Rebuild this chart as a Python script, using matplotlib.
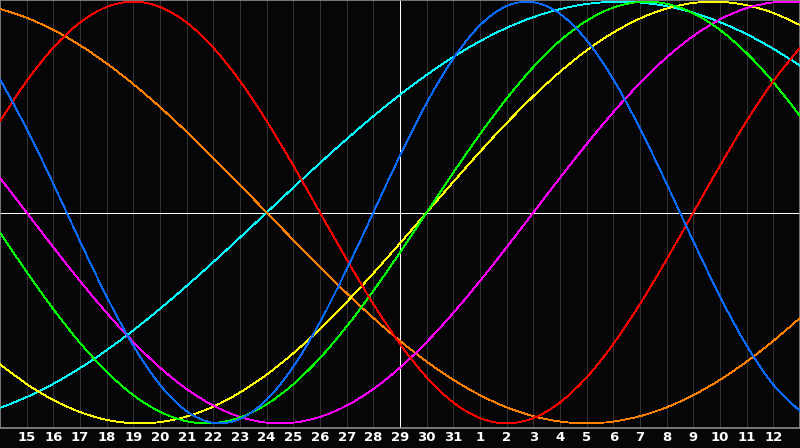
import matplotlib
matplotlib.use("Agg")
from matplotlib import pyplot as plt
from matplotlib.path import Path
from matplotlib.patches import PathPatch

# day labels along the bottom (one per grid line)
day_labels = [15, 16, 17, 18, 19, 20, 21, 22, 23, 24, 25, 26, 27, 28, 29, 30, 31,
              1, 2, 3, 4, 5, 6, 7, 8, 9, 10, 11, 12]
today_label = 29

# curve values per day (x = 0 .. 30), range -1 .. 1
blue = [0.6311, 0.3984, 0.1362, -0.1362, -0.3984, -0.6311, -0.8170, -0.9423,
        -0.9977, -0.9791, -0.8879, -0.7308, -0.5196, -0.2698, 0.0, 0.2698,
        0.5196, 0.7308, 0.8879, 0.9791, 0.9977, 0.9423, 0.8170, 0.6311,
        0.3984, 0.1362, -0.1362, -0.3984, -0.6311, -0.8170, -0.9423]
red = [0.4339, 0.6235, 0.7818, 0.9010, 0.9749, 1.0, 0.9749, 0.9010,
       0.7818, 0.6235, 0.4339, 0.2225, 0.0, -0.2225, -0.4339, -0.6235,
       -0.7818, -0.9010, -0.9749, -1.0, -0.9749, -0.9010, -0.7818, -0.6235,
       -0.4339, -0.2225, 0.0, 0.2225, 0.4339, 0.6235, 0.7818]
green = [-0.0951, -0.2817, -0.4582, -0.6182, -0.7557, -0.8660, -0.9450, -0.9898,
         -0.9989, -0.9718, -0.9096, -0.8146, -0.6901, -0.5406, -0.3717, -0.1893,
         0.0, 0.1893, 0.3717, 0.5406, 0.6901, 0.8146, 0.9096, 0.9718,
         0.9989, 0.9898, 0.9450, 0.8660, 0.7557, 0.6182, 0.4582]
magenta = [0.1646, 0.0, -0.1646, -0.3247, -0.4759, -0.6142, -0.7357, -0.8372,
           -0.9158, -0.9694, -0.9966, -0.9966, -0.9694, -0.9158, -0.8372, -0.7357,
           -0.6142, -0.4759, -0.3247, -0.1646, 0.0, 0.1646, 0.3247, 0.4759,
           0.6142, 0.7357, 0.8372, 0.9158, 0.9694, 0.9966, 0.9966]
yellow = [-0.7199, -0.8133, -0.8894, -0.9464, -0.9834, -0.9993, -0.9940, -0.9675,
          -0.9204, -0.8535, -0.7687, -0.6673, -0.5517, -0.4245, -0.2881, -0.1456,
          0.0, 0.1456, 0.2881, 0.4245, 0.5517, 0.6673, 0.7687, 0.8535,
          0.9204, 0.9675, 0.9940, 0.9993, 0.9834, 0.9464, 0.8894]
orange = [0.9659, 0.9239, 0.8660, 0.7934, 0.7071, 0.6088, 0.5, 0.3827,
          0.2588, 0.1305, 0.0, -0.1305, -0.2588, -0.3827, -0.5, -0.6088,
          -0.7071, -0.7934, -0.8660, -0.9239, -0.9659, -0.9914, -1.0, -0.9914,
          -0.9659, -0.9239, -0.8660, -0.7934, -0.7071, -0.6088, -0.5]
cyan = [-0.9267, -0.8757, -0.8125, -0.7379, -0.6529, -0.5586, -0.4566, -0.3482,
        -0.2349, -0.1183, 0.0, 0.1183, 0.2349, 0.3482, 0.4566, 0.5586,
        0.6529, 0.7379, 0.8125, 0.8757, 0.9267, 0.9646, 0.9890, 0.9996,
        0.9961, 0.9786, 0.9473, 0.9028, 0.8456, 0.7765, 0.6966]

bg = "#060609"
frame = "#8c8c8c"
grid = "#323232"


def smooth_path(xs, ys):
    # catmull-rom through the daily values, as cubic bezier pieces
    n = len(xs)
    verts = [(xs[0], ys[0])]
    codes = [Path.MOVETO]
    for i in range(n - 1):
        i0 = max(i - 1, 0)
        i3 = min(i + 2, n - 1)
        c1 = (xs[i] + (xs[i + 1] - xs[i0]) / 6, ys[i] + (ys[i + 1] - ys[i0]) / 6)
        c2 = (xs[i + 1] - (xs[i3] - xs[i]) / 6, ys[i + 1] - (ys[i3] - ys[i]) / 6)
        verts += [c1, c2, (xs[i + 1], ys[i + 1])]
        codes += [Path.CURVE4, Path.CURVE4, Path.CURVE4]
    return Path(verts, codes)


fig = plt.figure(figsize=(8, 4.48), dpi=100, facecolor=bg)
ax = fig.add_axes([0, 20 / 448, 1, 428 / 448], facecolor=bg)

days = list(range(len(blue)))
ticks = list(range(1, len(day_labels) + 1))
today = ticks[day_labels.index(today_label)]

# day grid
for t in ticks:
    if t != today:
        ax.axvline(t, color=grid, lw=0.6, antialiased=False, zorder=1)

# zero line and today marker
ax.axhline(0, color="white", lw=0.6, antialiased=False, zorder=2)
ax.axvline(today, color="white", lw=0.6, antialiased=False, zorder=2)

curves = [
    (cyan, "#00ffff"),
    (orange, "#ff8000"),
    (yellow, "#ffff00"),
    (magenta, "#ff00ff"),
    (green, "#00ff00"),
    (red, "#ff0000"),
    (blue, "#0a6cff"),
]
for vals, col in curves:
    ax.add_patch(PathPatch(smooth_path(days, vals), fill=False, edgecolor=col,
                           lw=0.6, antialiased=False, zorder=3))

ax.set_xlim(0, 30)
ax.set_ylim(-1.022, 1.008)

ax.set_xticks(ticks)
ax.set_xticklabels([str(d) for d in day_labels])
ax.tick_params(axis="x", length=0, pad=2.5, colors="white", labelsize=9.5)
for lab in ax.get_xticklabels():
    lab.set_fontweight("bold")
ax.set_yticks([])

for s in ax.spines.values():
    s.set_color(frame)
    s.set_linewidth(1.2)

fig.savefig("out.png", dpi=100, facecolor=bg)
